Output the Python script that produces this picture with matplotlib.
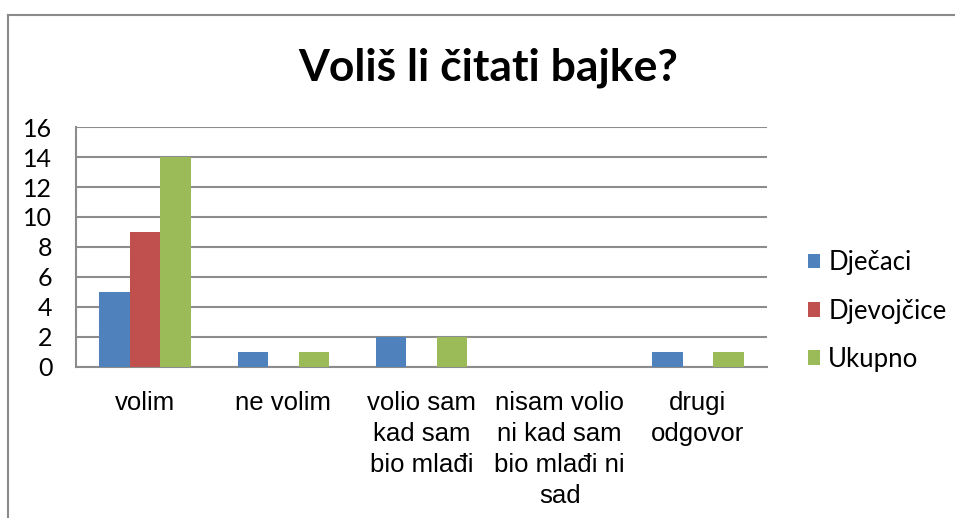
import matplotlib
matplotlib.use("Agg")
import matplotlib.pyplot as plt
import numpy as np
from matplotlib.lines import Line2D

categories = ["volim", "ne volim", "volio sam\nkad sam\nbio mlađi",
              "nisam volio\nni kad sam\nbio mlađi ni\nsad", "drugi\nodgovor"]
series_names = ["Dječaci", "Djevojčice", "Ukupno"]
djecaci = [5, 1, 2, 0, 1]
djevojcice = [9, 0, 0, 0, 0]
ukupno = [14, 1, 2, 0, 1]
y_ticks = [0, 2, 4, 6, 8, 10, 12, 14, 16]

colors = ["#4F81BD", "#C0504D", "#9BBB59"]
grid_col = "#8C8C8C"

fig = plt.figure(figsize=(9.55, 5.18), dpi=100)
ax = fig.add_axes([76 / 955, 1 - 367 / 518, (767 - 76) / 955, (367 - 127) / 518])

x = np.arange(len(categories))
w = 0.22
for i, (vals, name) in enumerate(zip([djecaci, djevojcice, ukupno], series_names)):
    ax.bar(x + (i - 1) * w, vals, width=w, color=colors[i], label=name, zorder=3)

ax.set_xlim(-0.5, len(categories) - 0.5)
ax.set_ylim(0, 16)
ax.set_yticks(y_ticks)
ax.set_yticklabels([str(t) for t in y_ticks], fontsize=18, family="Lato")
ax.set_xticks(x)
ax.set_xticklabels(categories, fontsize=18.5, family="Liberation Sans", linespacing=1.38)
ax.tick_params(axis="both", length=0)
ax.tick_params(axis="x", pad=17)
ax.tick_params(axis="y", pad=17)
ax.yaxis.grid(True, color=grid_col, linewidth=1.5, zorder=0)
for side in ["top", "right"]:
    ax.spines[side].set_visible(False)
for side in ["left", "bottom"]:
    ax.spines[side].set_color(grid_col)
    ax.spines[side].set_linewidth(1.5)

fig.text(488 / 955, 1 - 68 / 518, "Voliš li čitati bajke?", fontsize=32,
         fontweight="bold", family="Lato", ha="center", va="center")

leg = ax.legend(loc="center left", bbox_to_anchor=((808 - 76) / 691, 0.233), frameon=False,
                prop={"family": "Lato", "size": 18.5}, handlelength=0.47,
                handleheight=0.47, labelspacing=0.9, handletextpad=0.32,
                borderaxespad=0, borderpad=0)

# outer chart frame (left and top edges only visible in crop)
fig.add_artist(Line2D([8 / 955, 8 / 955], [0, 1 - 15 / 518], color="#8A8A8A",
                      linewidth=1.5, transform=fig.transFigure))
fig.add_artist(Line2D([8 / 955, 1], [1 - 15 / 518, 1 - 15 / 518], color="#8A8A8A",
                      linewidth=1.5, transform=fig.transFigure))

fig.savefig("out.png", dpi=100)
